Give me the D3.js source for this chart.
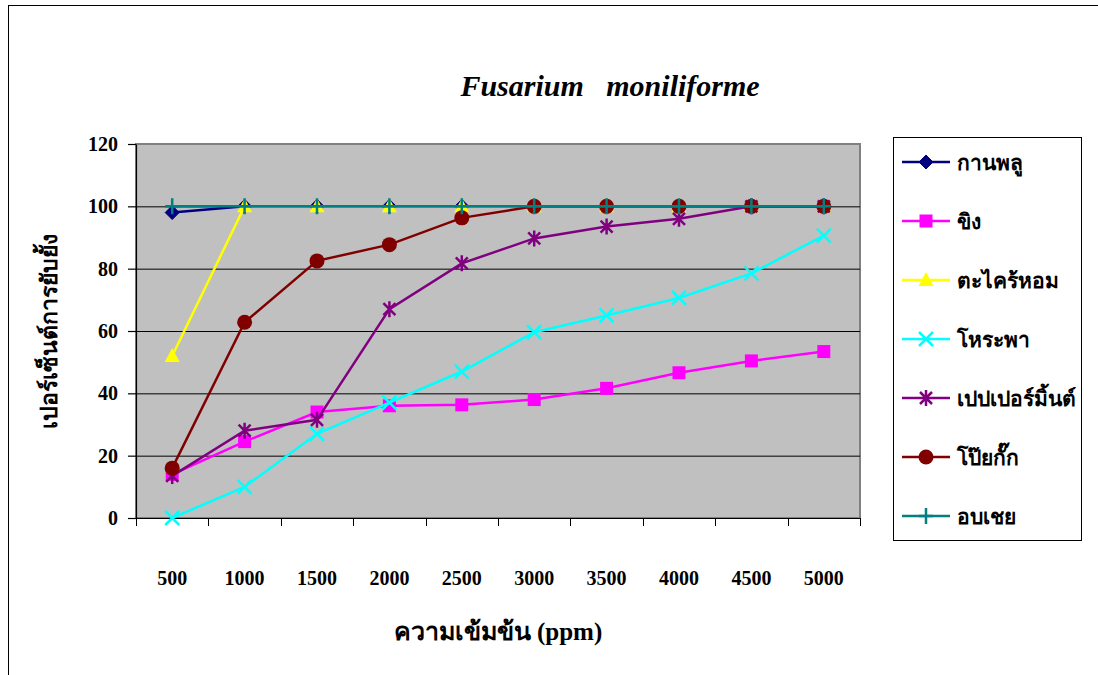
<!DOCTYPE html>
<html>
<head>
<meta charset="utf-8">
<script src="https://cdn.jsdelivr.net/npm/d3@7"></script>
<style>
  body { margin: 0; background: #fff; }
  svg text { font-family: "Liberation Serif", "Times New Roman", serif; font-weight: bold; }
</style>
</head>
<body>
<svg width="1098" height="675"></svg>
<script>
  // concentrations (ppm)
  var categories = ["500", "1000", "1500", "2000", "2500", "3000", "3500", "4000", "4500", "5000"];
  var yTicks = [0, 20, 40, 60, 80, 100, 120];

  var kanphlu = [98, 100, 100, 100, 100, 100, 100, 100, 100, 100];
  var khing = [14, 24.5, 34, 36, 36.3, 38, 41.6, 46.6, 50.4, 53.4];
  var takhraihom = [52, 100, 100, 100, 100, 100, 100, 100, 100, 100];
  var horapha = [0, 10, 27, 37, 47, 59.6, 65, 70.6, 78.5, 90.6];
  var peppermint = [13.5, 28, 31.5, 67, 81.7, 89.7, 93.5, 96, 100, 100];
  var poikak = [16, 62.8, 82.5, 87.7, 96.3, 100, 100, 100, 100, 100];
  var obchoei = [100, 100, 100, 100, 100, 100, 100, 100, 100, 100];

  var series = [
    { name: "กานพลู", values: kanphlu, color: "#000080", marker: "diamond" },
    { name: "ขิง", values: khing, color: "#FF00FF", marker: "square" },
    { name: "ตะไคร้หอม", values: takhraihom, color: "#FFFF00", marker: "triangle" },
    { name: "โหระพา", values: horapha, color: "#00FFFF", marker: "x" },
    { name: "เปปเปอร์มิ้นต์", values: peppermint, color: "#800080", marker: "star" },
    { name: "โป๊ยกั๊ก", values: poikak, color: "#800000", marker: "circle" },
    { name: "อบเชย", values: obchoei, color: "#008080", marker: "plus" }
  ];

  var svg = d3.select("svg");
  var plotL = 136, plotR = 860, plotT = 144, plotB = 518;

  // outer frame
  svg.append("rect").attr("x", 8.5).attr("y", 5.5).attr("width", 1100).attr("height", 700)
    .attr("fill", "none").attr("stroke", "#000").attr("stroke-width", 1);

  var x = d3.scaleBand().domain(categories).range([plotL, plotR]);
  var y = d3.scaleLinear().domain([0, 120]).range([plotB, plotT]);
  var cx = function(c) { return x(c) + x.bandwidth() / 2; };

  // plot area
  svg.append("rect").attr("x", plotL).attr("y", plotT).attr("width", plotR - plotL).attr("height", plotB - plotT)
    .attr("fill", "#C0C0C0").attr("stroke", "#808080").attr("stroke-width", 2);

  // gridlines
  svg.append("g").selectAll("line").data(yTicks.filter(function(d) { return d > 0 && d < 120; }))
    .enter().append("line")
    .attr("x1", plotL).attr("x2", plotR)
    .attr("y1", function(d) { return y(d) + 0.5; }).attr("y2", function(d) { return y(d) + 0.5; })
    .attr("stroke", "#000").attr("stroke-width", 1);

  // y axis
  var yAxis = svg.append("g").attr("transform", "translate(" + plotL + ",0)")
    .call(d3.axisLeft(y).tickValues(yTicks).tickSize(8).tickSizeOuter(0).tickPadding(10));
  yAxis.selectAll("line, path").attr("stroke", "#000").attr("stroke-width", 1.2);
  yAxis.selectAll("text").attr("font-size", 20).attr("fill", "#000")
    .style("font-family", "'Liberation Serif', serif").style("font-weight", "bold");

  // x axis
  var xg = svg.append("g");
  xg.append("line").attr("x1", plotL).attr("x2", plotR).attr("y1", plotB + 0.5).attr("y2", plotB + 0.5)
    .attr("stroke", "#000").attr("stroke-width", 1.2);
  var bounds = categories.map(function(c) { return x(c); }).concat([plotR]);
  xg.selectAll("line.tick").data(bounds).enter().append("line").attr("class", "tick")
    .attr("x1", function(d) { return Math.round(d) + 0.5; }).attr("x2", function(d) { return Math.round(d) + 0.5; })
    .attr("y1", plotB).attr("y2", plotB + 8).attr("stroke", "#000");
  xg.selectAll("text").data(categories).enter().append("text")
    .attr("x", cx).attr("y", 585).attr("text-anchor", "middle").attr("font-size", 20).text(function(d) { return d; });

  // titles
  svg.append("text").attr("x", 610).attr("y", 96).attr("text-anchor", "middle")
    .attr("font-size", 30).attr("font-style", "italic").attr("xml:space", "preserve")
    .text("Fusarium   moniliforme");
  svg.append("text").attr("x", (plotL + plotR) / 2).attr("y", 640).attr("text-anchor", "middle")
    .attr("font-size", 25).text("ความเข้มข้น (ppm)");
  svg.append("text").attr("transform", "translate(57," + ((plotT + plotB) / 2) + ") rotate(-90)")
    .attr("text-anchor", "middle").attr("font-size", 23).text("เปอร์เซ็นต์การยับยั้ง");

  // markers
  function drawMarker(g, type, color) {
    if (type === "diamond") {
      g.append("path").attr("d", "M0,-7L7,0L0,7L-7,0Z").attr("fill", color).attr("stroke", color);
    } else if (type === "square") {
      g.append("rect").attr("x", -6.5).attr("y", -6.5).attr("width", 13).attr("height", 13).attr("fill", color);
    } else if (type === "triangle") {
      g.append("path").attr("d", "M0,-8L7.5,6L-7.5,6Z").attr("fill", color);
    } else if (type === "circle") {
      g.append("circle").attr("r", 7.5).attr("fill", color);
    } else if (type === "x") {
      g.append("path").attr("d", "M-7,-7L7,7M-7,7L7,-7").attr("stroke", color).attr("stroke-width", 2.5);
    } else if (type === "star") {
      g.append("path").attr("d", "M-6,-6L6,6M-6,6L6,-6M0,-8L0,8").attr("stroke", color).attr("stroke-width", 2.5);
    } else if (type === "plus") {
      g.append("path").attr("d", "M0,-8L0,8M-7,0L7,0").attr("stroke", color).attr("stroke-width", 2.5);
    }
  }

  var line = d3.line().x(function(d, i) { return cx(categories[i]); }).y(function(d) { return y(d); });

  series.forEach(function(s) {
    var g = svg.append("g");
    g.append("path").attr("d", line(s.values)).attr("fill", "none")
      .attr("stroke", s.color).attr("stroke-width", 2.5);
    s.values.forEach(function(v, i) {
      var m = g.append("g").attr("transform", "translate(" + cx(categories[i]) + "," + y(v) + ")");
      drawMarker(m, s.marker, s.color);
    });
  });

  // legend
  var lg = svg.append("g");
  lg.append("rect").attr("x", 893.5).attr("y", 137.5).attr("width", 188).attr("height", 403)
    .attr("fill", "#fff").attr("stroke", "#000").attr("stroke-width", 1);
  var legendY = d3.scalePoint().domain(series.map(function(s) { return s.name; })).range([162, 516]);
  series.forEach(function(s) {
    var yy = legendY(s.name);
    lg.append("line").attr("x1", 902).attr("x2", 950).attr("y1", yy).attr("y2", yy)
      .attr("stroke", s.color).attr("stroke-width", 2.5);
    drawMarker(lg.append("g").attr("transform", "translate(926," + yy + ")"), s.marker, s.color);
    lg.append("text").attr("x", 957).attr("y", yy + 8).attr("font-size", 21).text(s.name);
  });
</script>
</body>
</html>
